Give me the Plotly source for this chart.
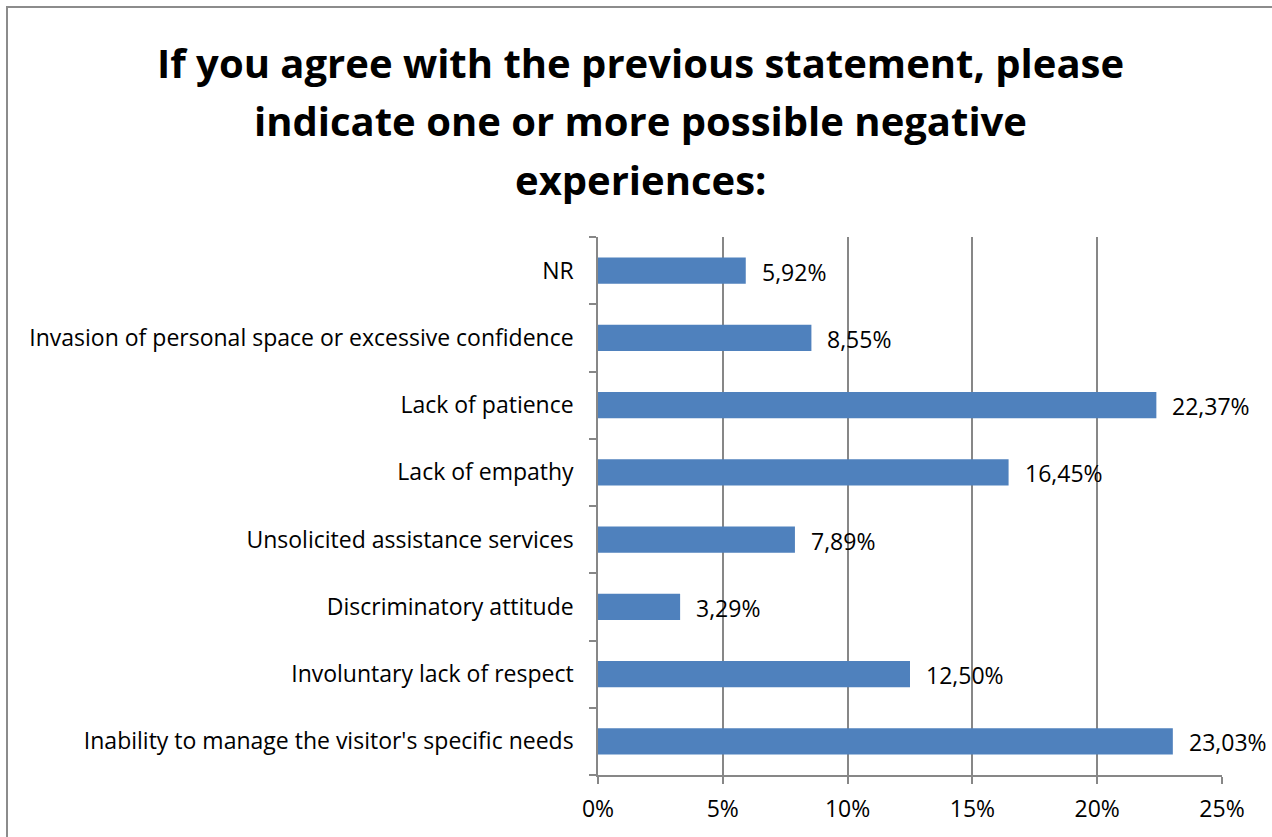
import plotly.graph_objects as go

# Survey answers, listed bottom to top as drawn on the category axis
categories = [
    "Inability to manage the visitor's specific needs",
    "Involuntary lack of respect",
    "Discriminatory attitude",
    "Unsolicited assistance services",
    "Lack of empathy",
    "Lack of patience",
    "Invasion of personal space or excessive confidence",
    "NR",
]
shares = [23.03, 12.50, 3.29, 7.89, 16.45, 22.37, 8.55, 5.92]
value_labels = ["23,03%", "12,50%", "3,29%", "7,89%", "16,45%", "22,37%", "8,55%", "5,92%"]

title_lines = [
    "If you agree with the previous statement, please",
    "indicate one or more possible negative",
    "experiences:",
]

W, H = 1272, 837
L, R, T, B = 598, 50, 237, 62
FONT = "Open Sans"
GRID = "#878787"
TXT = 23

fig = go.Figure(
    go.Bar(
        x=shares,
        y=categories,
        orientation="h",
        marker=dict(color="#4F81BD", line=dict(width=0)),
        width=0.39,
        hoverinfo="skip",
    )
)

# value labels to the right of each bar
for c, v, lab in zip(categories, shares, value_labels):
    fig.add_annotation(
        x=v, y=c, xref="x", yref="y", text=lab, showarrow=False,
        xanchor="left", xshift=14, yshift=-1,
        font=dict(family=FONT, size=TXT, color="#000000"),
    )

# title, one annotation per line
pw, ph = W - L - R, H - T - B
for i, line in enumerate(title_lines):
    ypx = 62 + i * 59
    fig.add_annotation(
        x=(640 - L) / pw, y=(H - B - ypx) / ph, xref="paper", yref="paper",
        text=f"<b>{line}</b>", showarrow=False, xanchor="center", yanchor="middle",
        font=dict(family=FONT, size=40, color="#000000"),
    )

# chart-area frame
fig.add_shape(
    type="rect", xref="paper", yref="paper",
    x0=(7 - L) / pw, x1=1.3, y0=-0.3, y1=(H - B - 7) / ph,
    line=dict(color="#8C8C8C", width=2), fillcolor="rgba(0,0,0,0)", layer="below",
)

fig.update_layout(
    width=W, height=H,
    margin=dict(l=L, r=R, t=T, b=B, pad=0),
    paper_bgcolor="white", plot_bgcolor="white",
    showlegend=False,
    separators=",.",
    font=dict(family=FONT, size=TXT, color="#000000"),
    xaxis=dict(
        range=[0, 25], dtick=5, ticksuffix="%",
        showgrid=True, gridcolor=GRID, gridwidth=1.5,
        showline=True, linecolor=GRID, linewidth=1.5,
        ticks="outside", ticklen=7, tickcolor=GRID, tickwidth=1.5,
        zeroline=False, fixedrange=True, ticklabelstandoff=6,
        tickfont=dict(family=FONT, size=TXT),
    ),
    yaxis=dict(
        showgrid=False, showline=True, linecolor=GRID, linewidth=1.5,
        ticks="outside", ticklen=7, tickcolor=GRID, tickwidth=1.5,
        tickson="boundaries", ticklabelstandoff=18,
        zeroline=False, fixedrange=True,
        tickfont=dict(family=FONT, size=TXT),
    ),
)

fig.write_html("out.html")
